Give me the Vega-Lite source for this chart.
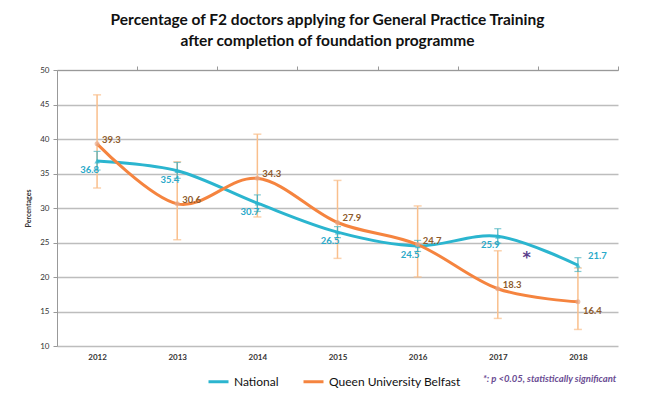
{
  "$schema": "https://vega.github.io/schema/vega-lite/v6.json",
  "autosize": "none",
  "width": 561,
  "height": 276,
  "padding": {"left": 57, "top": 70, "right": 36, "bottom": 54},
  "background": "white",
  "config": {
    "font": "Lato",
    "view": {"stroke": null},
    "axisY": {"tickCount": 8, "grid": true, "gridColor": "#bdbdbd", "gridWidth": 1.4, "ticks": true, "tickColor": "#999999", "tickSize": 4, "domainColor": "#999999", "labelFontSize": 8, "labelColor": "#333333", "labelPadding": 4, "titleFontSize": 7, "titleFontWeight": "bold", "titleColor": "#333333", "titlePadding": 8}
  },
  "title": {
    "text": ["Percentage of F2 doctors applying for General Practice Training", "after completion of foundation programme"],
    "fontSize": 15.5,
    "fontWeight": "bold",
    "font": "Lato",
    "color": "#111111",
    "lineHeight": 21,
    "anchor": "middle",
    "dx": -10,
    "offset": 16
  },
  "datasets": {
    "main": [
      {"year": 2012, "series": "National", "value": 36.8, "lo": 35.5, "hi": 38.2},
      {"year": 2013, "series": "National", "value": 35.4, "lo": 34.3, "hi": 36.6},
      {"year": 2014, "series": "National", "value": 30.7, "lo": 29.5, "hi": 31.9},
      {"year": 2015, "series": "National", "value": 26.5, "lo": 25.7, "hi": 27.3},
      {"year": 2016, "series": "National", "value": 24.5, "lo": 23.7, "hi": 25.3},
      {"year": 2017, "series": "National", "value": 25.9, "lo": 24.9, "hi": 27.0},
      {"year": 2018, "series": "National", "value": 21.7, "lo": 20.8, "hi": 22.8},
      {"year": 2012, "series": "Queen University Belfast", "value": 39.3, "lo": 32.9, "hi": 46.4},
      {"year": 2013, "series": "Queen University Belfast", "value": 30.6, "lo": 25.4, "hi": 36.7},
      {"year": 2014, "series": "Queen University Belfast", "value": 34.3, "lo": 28.7, "hi": 40.7},
      {"year": 2015, "series": "Queen University Belfast", "value": 27.9, "lo": 22.7, "hi": 34.0},
      {"year": 2016, "series": "Queen University Belfast", "value": 24.7, "lo": 20.0, "hi": 30.3},
      {"year": 2017, "series": "Queen University Belfast", "value": 18.3, "lo": 14.0, "hi": 23.8},
      {"year": 2018, "series": "Queen University Belfast", "value": 16.4, "lo": 12.4, "hi": 21.3}
    ],
    "sig": [
      {"year": 2017.36, "value": 23.3, "label": "*"}
    ]
  },
  "data": {"name": "main"},
  "resolve": {"axis": {"x": "independent"}},
  "layer": [
    {
      "transform": [{"filter": "datum.series === 'Queen University Belfast'"}],
      "mark": {"type": "errorbar", "ticks": {"size": 8}, "color": "#f9bf8c", "thickness": 1.5},
      "encoding": {
        "x": {"field": "year", "type": "quantitative", "scale": {"domain": [2011.5, 2018.5], "nice": false, "zero": false},
          "axis": {"values": [2012, 2013, 2014, 2015, 2016, 2017, 2018], "format": "d", "ticks": false, "grid": false, "domain": false, "labelFontSize": 8, "labelFontWeight": "bold", "labelColor": "#333333", "labelPadding": 7, "title": null}},
        "y": {"field": "lo", "type": "quantitative", "scale": {"domain": [10, 50], "nice": false, "zero": false},
          "axis": {"title": "Percentages", "tickCount": 8}},
        "y2": {"field": "hi"}
      }
    },
    {
      "transform": [{"filter": "datum.series === 'National'"}],
      "mark": {"type": "errorbar", "ticks": {"size": 7}, "color": "#4bb3bf", "thickness": 1.2},
      "encoding": {
        "x": {"field": "year", "type": "quantitative", "axis": null},
        "y": {"field": "lo", "type": "quantitative", "axis": {"title": "Percentages", "tickCount": 8}},
        "y2": {"field": "hi"}
      }
    },
    {
      "mark": {"type": "line", "interpolate": "cardinal", "strokeWidth": 3},
      "encoding": {
        "x": {"field": "year", "type": "quantitative",
          "axis": {"values": [2012.5, 2013.5, 2014.5, 2015.5, 2016.5, 2017.5, 2018.5], "labels": false, "ticks": true, "tickSize": 4, "tickColor": "#999999", "domain": true, "domainColor": "#999999", "domainWidth": 1.2, "grid": false, "title": null}},
        "y": {"field": "value", "type": "quantitative", "axis": {"title": "Percentages", "tickCount": 8}},
        "color": {"field": "series", "type": "nominal",
          "scale": {"domain": ["National", "Queen University Belfast"], "range": ["#2bb5cf", "#f5843f"]},
          "legend": {"orient": "none", "legendX": 150, "legendY": 300, "direction": "horizontal", "title": "*: p <0.05, statistically significant", "titleOrient": "right", "titleFontStyle": "italic", "titleFontWeight": "bold", "titleColor": "#6a4c93", "titleFontSize": 9.5, "titlePadding": 22, "labelFontSize": 12, "labelColor": "#111111", "symbolType": "stroke", "symbolStrokeWidth": 3, "symbolSize": 400, "columnPadding": 18}}
      }
    },
    {
      "transform": [{"filter": "datum.series === 'National'"}],
      "mark": {"type": "point", "shape": "triangle-up", "filled": true, "size": 30, "color": "#2bb5cf"},
      "encoding": {
        "x": {"field": "year", "type": "quantitative", "axis": null},
        "y": {"field": "value", "type": "quantitative", "axis": {"title": "Percentages", "tickCount": 8}}
      }
    },
    {
      "transform": [{"filter": "datum.series === 'Queen University Belfast'"}],
      "mark": {"type": "point", "shape": "circle", "filled": true, "size": 25, "color": "#e8a98a"},
      "encoding": {
        "x": {"field": "year", "type": "quantitative", "axis": null},
        "y": {"field": "value", "type": "quantitative", "axis": {"title": "Percentages", "tickCount": 8}}
      }
    },
    {
      "transform": [{"filter": "datum.series === 'National' && datum.year < 2018"}],
      "mark": {"type": "text", "align": "right", "dx": 2, "dy": 9, "fontSize": 9.5, "fontWeight": "bold", "color": "#2aa9c9"},
      "encoding": {
        "x": {"field": "year", "type": "quantitative", "axis": null},
        "y": {"field": "value", "type": "quantitative", "axis": {"title": "Percentages", "tickCount": 8}},
        "text": {"field": "value", "type": "quantitative", "format": ".1f"}
      }
    },
    {
      "transform": [{"filter": "datum.series === 'National' && datum.year == 2018"}],
      "mark": {"type": "text", "align": "left", "dx": 10, "dy": -9, "fontSize": 9.5, "fontWeight": "bold", "color": "#2aa9c9"},
      "encoding": {
        "x": {"field": "year", "type": "quantitative", "axis": null},
        "y": {"field": "value", "type": "quantitative", "axis": {"title": "Percentages", "tickCount": 8}},
        "text": {"field": "value", "type": "quantitative", "format": ".1f"}
      }
    },
    {
      "transform": [{"filter": "datum.series === 'Queen University Belfast' && datum.year < 2018"}],
      "mark": {"type": "text", "align": "left", "dx": 5, "dy": -4, "fontSize": 9.5, "fontWeight": "bold", "color": "#8d5a2b"},
      "encoding": {
        "x": {"field": "year", "type": "quantitative", "axis": null},
        "y": {"field": "value", "type": "quantitative", "axis": {"title": "Percentages", "tickCount": 8}},
        "text": {"field": "value", "type": "quantitative", "format": ".1f"}
      }
    },
    {
      "transform": [{"filter": "datum.series === 'Queen University Belfast' && datum.year == 2018"}],
      "mark": {"type": "text", "align": "left", "dx": 5, "dy": 9, "fontSize": 9.5, "fontWeight": "bold", "color": "#8d5a2b"},
      "encoding": {
        "x": {"field": "year", "type": "quantitative", "axis": null},
        "y": {"field": "value", "type": "quantitative", "axis": {"title": "Percentages", "tickCount": 8}},
        "text": {"field": "value", "type": "quantitative", "format": ".1f"}
      }
    },
    {
      "data": {"name": "sig"},
      "mark": {"type": "text", "font": "DejaVu Sans", "fontSize": 16, "fontWeight": "bold", "color": "#5b3f8c", "baseline": "middle", "dy": 4},
      "encoding": {
        "x": {"field": "year", "type": "quantitative", "axis": null},
        "y": {"field": "value", "type": "quantitative", "axis": {"title": "Percentages", "tickCount": 8}},
        "text": {"field": "label"}
      }
    }
  ]
}
